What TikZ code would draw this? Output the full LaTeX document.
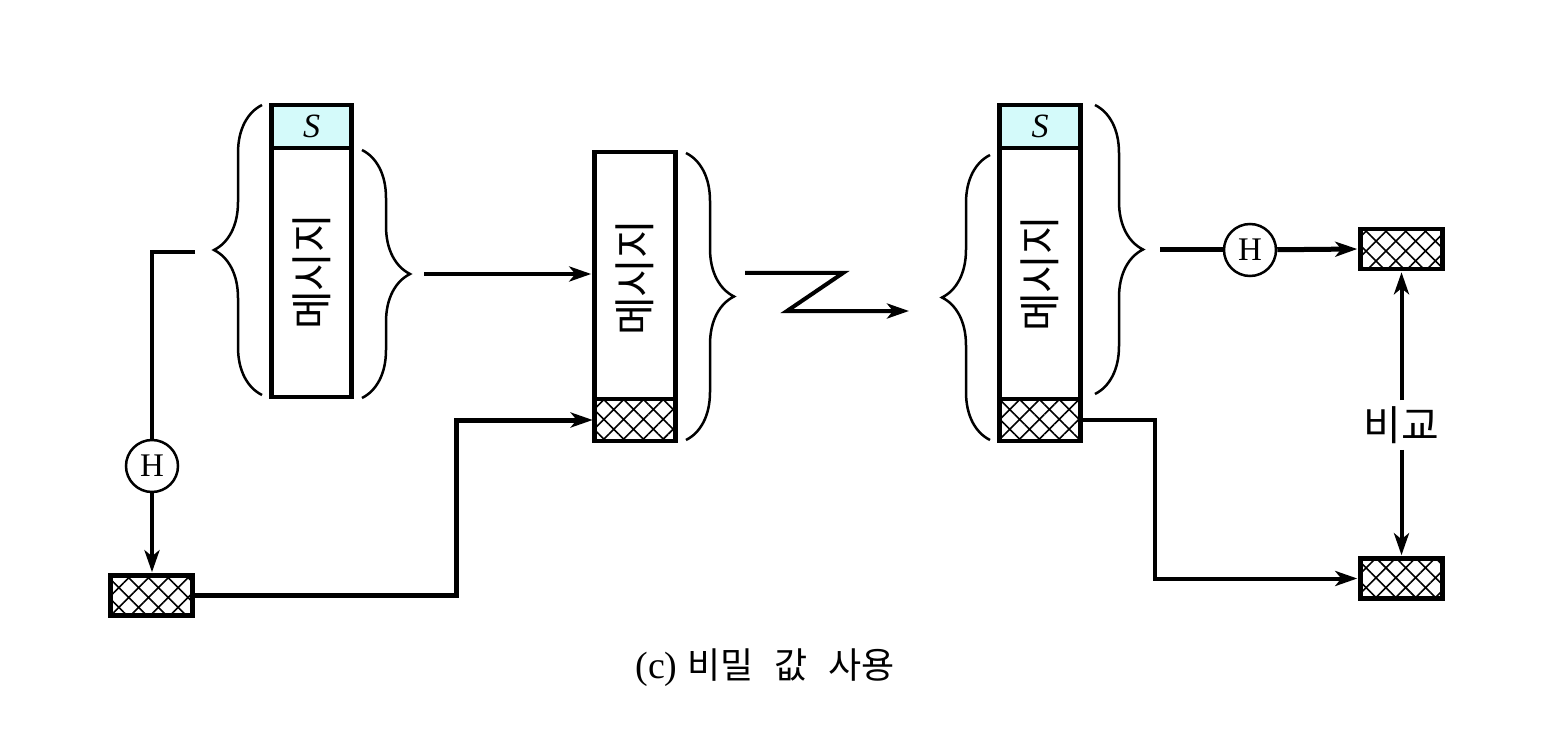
\documentclass[tikz,border=0pt]{standalone}
\usepackage{fontspec}
\setmainfont{Liberation Serif}
\newfontfamily\kr[WordSpace=2.6]{Noto Sans CJK KR}
\usetikzlibrary{arrows.meta,decorations.pathreplacing,patterns.meta}
\definecolor{scyan}{RGB}{212,250,250}
\begin{document}
\begin{tikzpicture}[x=1pt,y=-1pt,
  part/.style={draw, line width=4.5pt, inner sep=0pt},
  hatch/.style={part, pattern={Hatch[angle=45,distance=14pt,line width=1.6pt]}},
  sbox/.style={part, fill=scyan, font=\fontsize{34}{38}\selectfont\itshape},
  msg/.style={rotate=90, font=\kr\fontsize{42}{46}\selectfont},
  hcirc/.style={draw, circle, line width=2.5pt, minimum size=52pt, inner sep=0pt, fill=white, font=\fontsize{33}{36}\selectfont},
  mybrace/.style={decorate, decoration={brace, amplitude=48pt}, line width=2.5pt},
  conn/.style={line width=4pt},
  arr/.style={line width=4pt, -{Stealth[length=22pt,width=15pt,inset=6pt]}, shorten >=1pt},
]
\useasboundingbox (0,0) rectangle (1556,746);

% box 1
\node[sbox, minimum width=80pt, minimum height=43pt] (s1) at (311.5,126.5) {S};
\node[part, minimum width=80pt, minimum height=249pt] (m1) at (311.5,272.5) {};
\node[msg] (t1) at (311.5,272) {메시지};
\draw[mybrace] (262,395) -- (262,105);
\draw[mybrace] (362,150) -- (362,398);

% box 2
\node[part, minimum width=81pt, minimum height=247pt] (m2) at (635,275.5) {};
\node[msg] (t2) at (635,278) {메시지};
\node[hatch, minimum width=81pt, minimum height=42pt] (h2) at (635,420) {};
\draw[mybrace] (686,153) -- (686,440);

% box 3
\node[sbox, minimum width=81pt, minimum height=43pt] (s3) at (1040,126.5) {S};
\node[part, minimum width=81pt, minimum height=251pt] (m3) at (1040,273.5) {};
\node[msg] (t3) at (1040,274) {메시지};
\node[hatch, minimum width=81pt, minimum height=42pt] (h3) at (1040,420) {};
\draw[mybrace] (990,440) -- (990,155);
\draw[mybrace] (1095,105) -- (1095,394);

% small hatched boxes
\node[hatch, minimum width=82pt, minimum height=40pt] (h1) at (151.5,595.5) {};
\node[hatch, minimum width=82pt, minimum height=40pt] (hr1) at (1401.5,249) {};
\node[hatch, minimum width=82pt, minimum height=40pt] (hr2) at (1401.5,578.5) {};

% hash circles
\node[hcirc] (c1) at (152,466) {H};
\node[hcirc] (c2) at (1250,250) {H};

% compare label
\node[font=\kr\fontsize{41}{44}\selectfont, inner sep=6pt] (cmp) at (1401.5,425) {비교};

% connectors
\coordinate (L1) at (195,252);
\draw[conn] (L1) -| (c1);
\draw[arr] (c1) -- (c1 |- h1.north);
\coordinate (k1) at (456,595.5);
\draw[arr, line width=5pt] (h1.east) -- (k1) |- (h2.west);
\coordinate (L2) at (424,274);
\draw[arr] (L2) -- (L2 -| m2.west);
\coordinate (z1) at (745,273);
\coordinate (z2) at (843,273);
\coordinate (z3) at (787,311);
\coordinate (z4) at (910,311);
\draw[arr] (z1) -- (z2) -- (z3) -- (z4);
\coordinate (L3) at (1160,250);
\draw[conn, line width=5pt] (L3) -- (c2);
\draw[arr, line width=5pt] (c2) -- (hr1.west);
\draw[arr] (cmp) -- (hr1.south);
\draw[arr] (cmp) -- (hr2.north);
\coordinate (k2) at (1155,420);
\draw[arr] (h3.east) -- (k2) |- (hr2.west);

% caption
\node[font=\fontsize{38}{42}\selectfont] (cap) at (765,668) {(c) {\kr\fontsize{36}{40}\selectfont 비밀 값 사용}};
\end{tikzpicture}
\end{document}
